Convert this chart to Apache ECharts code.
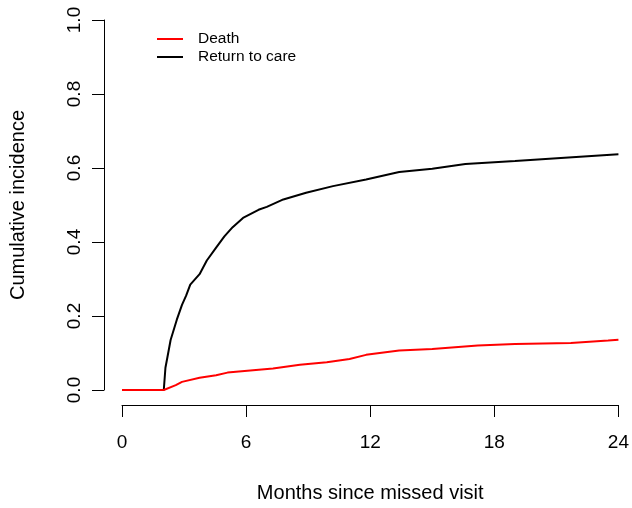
<!DOCTYPE html>
<html>
<head>
<meta charset="utf-8">
<script src="https://cdn.jsdelivr.net/npm/echarts@6/dist/echarts.min.js"></script>
<style>
  html, body { margin: 0; padding: 0; background: #fff; }
  #chart { width: 632px; height: 508px; }
</style>
</head>
<body>
<div id="chart"></div>
<script>
const xTicks = [0, 6, 12, 18, 24]
const seriesNames = ['Death', 'Return to care']

// cumulative incidence (months, value)
const deathTimes = [0, 2.02, 2.6, 2.9, 3.75, 4.55, 5.1, 6.2, 7.3, 8.6, 9.9, 11.0, 11.8, 13.4, 15.0, 17.2, 19.0, 21.7, 23.5, 24]
const deathValues = [0, 0, 0.013, 0.022, 0.033, 0.04, 0.047, 0.053, 0.058, 0.068, 0.075, 0.084, 0.095, 0.107, 0.111, 0.12, 0.124, 0.127, 0.134, 0.136]

const returnTimes = [0, 2.02, 2.1, 2.2, 2.35, 2.65, 2.9, 3.1, 3.3, 3.75, 4.1, 4.55, 4.95, 5.35, 5.85, 6.6, 7.0, 7.8, 8.9, 10.2, 11.8, 13.4, 15.0, 16.6, 19.0, 21.4, 24]
const returnValues = [0, 0, 0.06, 0.09, 0.135, 0.19, 0.23, 0.255, 0.285, 0.313, 0.35, 0.385, 0.415, 0.44, 0.465, 0.487, 0.495, 0.515, 0.533, 0.551, 0.569, 0.589, 0.598, 0.611, 0.619, 0.628, 0.637]

const pairs = (ts, vs) => ts.map((t, i) => [t, vs[i]])
const font = 'Liberation Sans, Arial, sans-serif'

const chart = echarts.init(document.getElementById('chart'))
chart.setOption({
  animation: false,
  grid: { left: 122, right: 11, top: 20, bottom: 113 },
  legend: {
    data: seriesNames,
    orient: 'vertical',
    left: 157,
    top: 31,
    padding: 0,
    icon: 'rect',
    itemWidth: 26,
    itemHeight: 2,
    itemGap: 2,
    textStyle: { fontFamily: font, fontSize: 15.5, color: '#000', lineHeight: 16, padding: [0, 0, 0, 10] }
  },
  xAxis: {
    type: 'value',
    min: 0,
    max: 24,
    interval: 6,
    offset: 15,
    splitLine: { show: false },
    axisLine: { show: true, onZero: false, lineStyle: { color: '#000', width: 1 } },
    axisTick: { show: true, length: 12, lineStyle: { color: '#000' } },
    axisLabel: { margin: 28, fontFamily: font, fontSize: 19, color: '#000', formatter: v => xTicks.includes(v) ? String(v) : '' },
    name: 'Months since missed visit',
    nameLocation: 'middle',
    nameGap: 78,
    nameTextStyle: { fontFamily: font, fontSize: 20, color: '#000' }
  },
  yAxis: {
    type: 'value',
    min: 0,
    max: 1,
    interval: 0.2,
    offset: 18,
    splitLine: { show: false },
    axisLine: { show: true, onZero: false, lineStyle: { color: '#000', width: 1 } },
    axisTick: { show: true, length: 12, lineStyle: { color: '#000' } },
    axisLabel: { rotate: 90, margin: 20, fontFamily: font, fontSize: 19, color: '#000', formatter: v => v.toFixed(1) },
    name: 'Cumulative incidence',
    nameLocation: 'middle',
    nameGap: 76,
    nameTextStyle: { fontFamily: font, fontSize: 20, color: '#000' }
  },
  series: [
    {
      name: seriesNames[0],
      type: 'line',
      data: pairs(deathTimes, deathValues),
      symbol: 'none',
      z: 3,
      itemStyle: { color: '#ff0000' },
      lineStyle: { color: '#ff0000', width: 2 }
    },
    {
      name: seriesNames[1],
      type: 'line',
      data: pairs(returnTimes, returnValues),
      symbol: 'none',
      z: 2,
      itemStyle: { color: '#000' },
      lineStyle: { color: '#000', width: 2 }
    }
  ]
})
</script>
</body>
</html>
